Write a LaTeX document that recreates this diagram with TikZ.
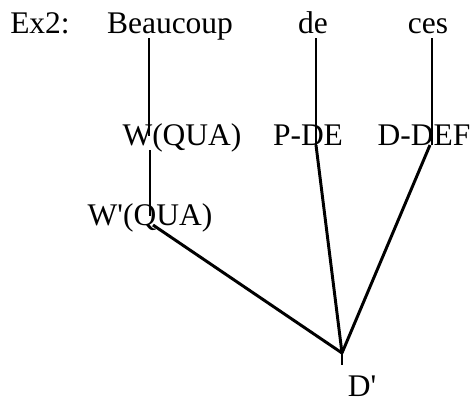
\documentclass[tikz,border=0pt]{standalone}
\usepackage{fontspec}
\setmainfont{Liberation Serif}
\begin{document}
\begin{tikzpicture}[x=.025cm,y=-.025cm,line width=1.4pt,font=\fontsize{22.4}{26}\selectfont,
  lab/.style={anchor=base,inner sep=1pt,text depth=.22em},
  arc/.style={line width=2.1pt}]
\useasboundingbox (0,0) rectangle (475,401);
% words
\node[lab] (ex) at (40,33) {Ex2:};
\node[lab] (beaucoup) at (170,33) {Beaucoup};
\node[lab] (de) at (313,33) {de};
\node[lab] (ces) at (428,33) {ces};
% categories
\node[lab] (wqua) at (182,145) {W(QUA)};
\node[lab] (pde) at (308,145) {P-DE};
\node[lab] (ddef) at (424,145) {D-DEF};
\node[lab] (wpqua) at (150,225) {W\textquotesingle(QUA)};
\node[lab,text depth=0pt] (dp) at (362,396) {D\textquotesingle};
\coordinate (r) at (342,353);
\draw (beaucoup.south -| 149,0) -- (wqua.center -| 149,0);
\draw (wqua.south -| 150,0) -- (wpqua.center -| 150,0);
\draw (de.south -| 316,0) -- (pde.base -| 316,0);
\draw (ces.south -| 432,0) -- (ddef.base -| 432,0);
\draw[arc] (wpqua.base -| 153,0) -- (r);
\draw[arc] (pde.base -| 316,0) -- (r);
\draw[arc] (ddef.base -| 430,0) -- (r);
\draw (r) -- (r |- 0,365);
\end{tikzpicture}
\end{document}
